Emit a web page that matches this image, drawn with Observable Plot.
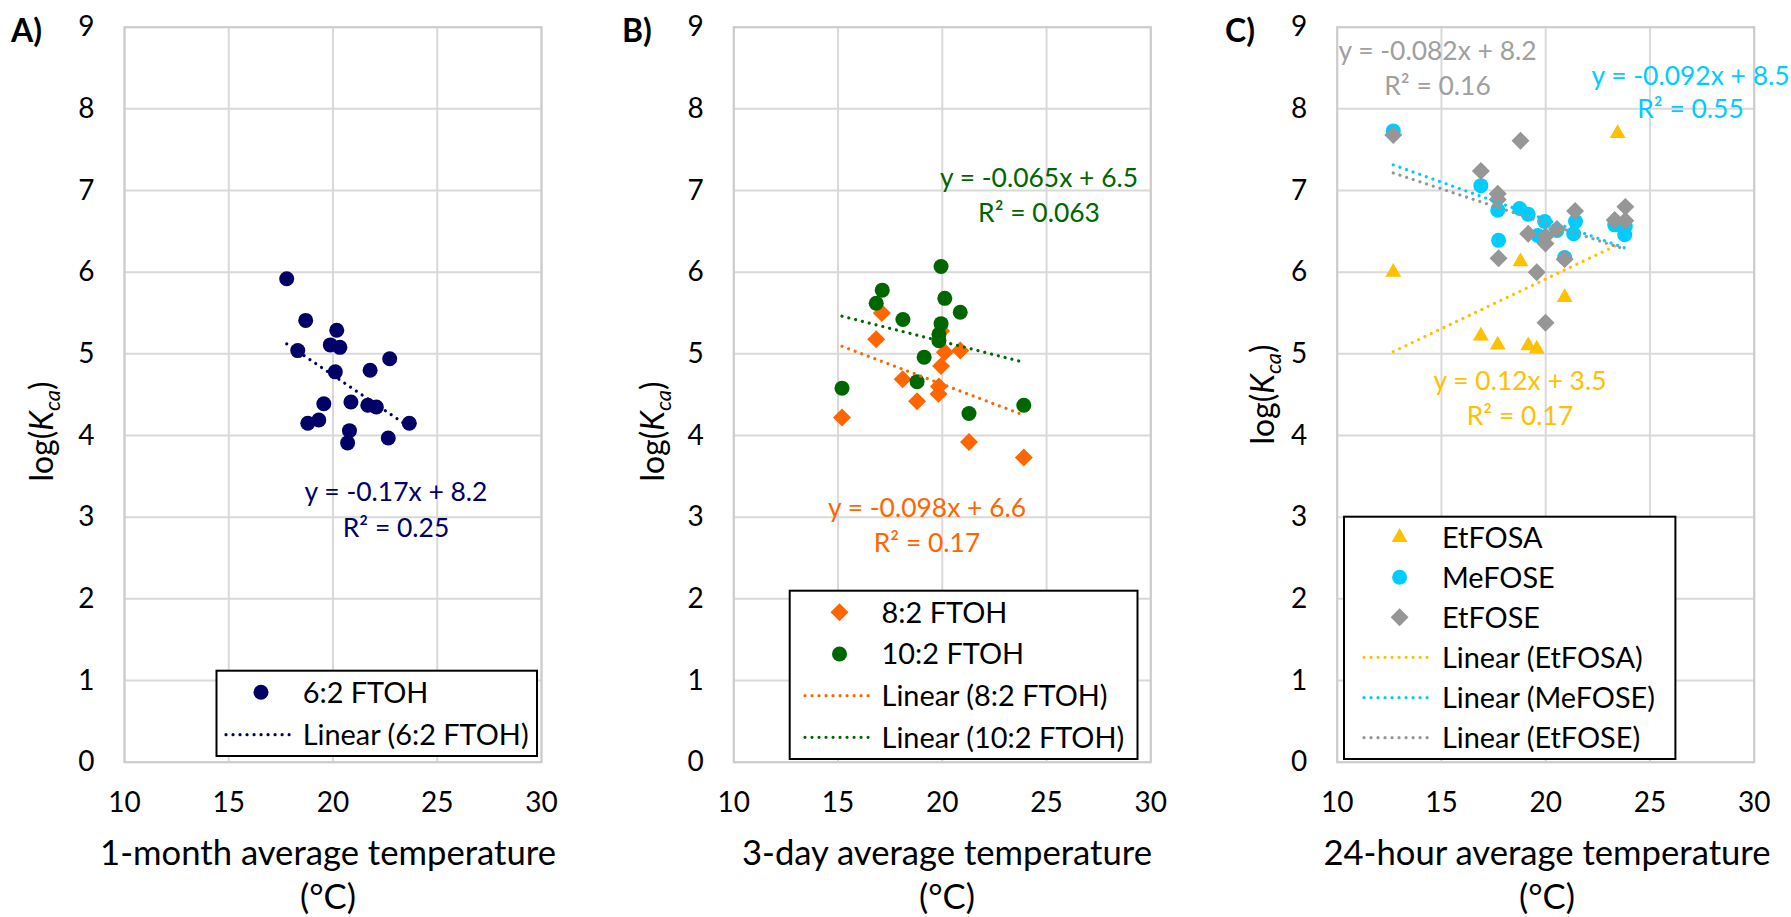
<!DOCTYPE html>
<html>
<head>
<meta charset="utf-8">
<script src="https://cdn.jsdelivr.net/npm/d3@7"></script>
<script src="https://cdn.jsdelivr.net/npm/@observablehq/plot@0.6"></script>
<style>
  body { margin: 0; background: #fff; }
  #wrap { position: relative; width: 1791px; height: 917px; overflow: hidden; background: #fff; }
  #wrap > svg { position: absolute; top: 0; }
</style>
</head>
<body>
<div id="wrap"></div>
<script>
// ---------------- data ----------------
const xTicks = [10, 15, 20, 25, 30];
const yTicks = [0, 1, 2, 3, 4, 5, 6, 7, 8, 9];

// Panel A: 6:2 FTOH vs 1-month average temperature
const ftoh62_temp = [17.78, 18.69, 18.31, 20.18, 19.87, 20.33, 20.11, 21.78, 22.72, 19.56, 20.86, 21.67, 22.08, 18.79, 19.32, 20.79, 20.70, 22.65, 23.66];
const ftoh62_logK = [5.92, 5.41, 5.04, 5.29, 5.11, 5.08, 4.78, 4.80, 4.94, 4.39, 4.41, 4.37, 4.35, 4.15, 4.19, 4.06, 3.91, 3.97, 4.15];

// Panel B: 8:2 and 10:2 FTOH vs 3-day average temperature
const ftoh82_temp = [17.10, 16.83, 19.94, 20.12, 20.86, 19.94, 18.10, 19.84, 19.82, 18.79, 15.19, 21.28, 23.91];
const ftoh82_logK = [5.50, 5.18, 5.28, 5.02, 5.04, 4.85, 4.69, 4.60, 4.51, 4.42, 4.22, 3.92, 3.73];
const ftoh102_temp = [19.94, 17.12, 16.83, 20.12, 20.86, 18.11, 19.94, 19.84, 19.84, 19.13, 18.79, 15.19, 21.28, 23.91];
const ftoh102_logK = [6.07, 5.78, 5.62, 5.68, 5.51, 5.42, 5.37, 5.24, 5.16, 4.96, 4.66, 4.58, 4.27, 4.37];

// Panel C: EtFOSA, MeFOSE, EtFOSE vs 24-hour average temperature
const etfosa_temp = [12.69, 23.45, 18.79, 20.91, 16.89, 17.70, 19.16, 19.57];
const etfosa_logK = [6.00, 7.70, 6.13, 5.69, 5.22, 5.11, 5.10, 5.06];
const mefose_temp = [12.69, 16.89, 17.70, 17.74, 18.75, 19.16, 19.95, 19.62, 20.54, 21.43, 21.34, 20.91, 23.31, 23.82, 23.79];
const mefose_logK = [7.73, 7.06, 6.76, 6.39, 6.78, 6.71, 6.62, 6.45, 6.51, 6.62, 6.47, 6.18, 6.58, 6.56, 6.46];
const etfose_temp = [12.69, 18.79, 16.89, 17.70, 17.70, 17.74, 19.16, 19.99, 19.99, 20.54, 19.57, 19.99, 20.91, 21.41, 23.31, 23.82, 23.82];
const etfose_logK = [7.68, 7.61, 7.24, 6.96, 6.89, 6.17, 6.47, 6.44, 6.35, 6.53, 6.00, 5.38, 6.16, 6.75, 6.64, 6.80, 6.63];

// Text
const panelLabels = ["A)", "B)", "C)"];
const xTitles = ["1-month average temperature", "3-day average temperature", "24-hour average temperature"];
const xUnit = "(°C)";

// ---------------- styling ----------------
const FONT = "Lato, 'Open Sans', sans-serif";
const GRID = "#d9d9d9";
const C_NAVY = "#000066", C_ORANGE = "#ff6600", C_GREEN = "#006600";
const C_YELLOW = "#ffc000", C_CYAN = "#00ccff", C_GRAY = "#969696";
const DOT_DASH = "0.01 7";

const rows = (xs, ys) => xs.map((t, i) => ({t, k: ys[i]}));
const SYM = {
  circle: {plot: "circle", r: 7.5},
  diamond: {plot: "diamond2", r: 8.1},
  triangle: {plot: "triangle", r: 5.9}
};

const series = {
  ftoh62: {name: "6:2 FTOH", data: rows(ftoh62_temp, ftoh62_logK), color: C_NAVY, sym: "circle"},
  ftoh82: {name: "8:2 FTOH", data: rows(ftoh82_temp, ftoh82_logK), color: C_ORANGE, sym: "diamond"},
  ftoh102: {name: "10:2 FTOH", data: rows(ftoh102_temp, ftoh102_logK), color: C_GREEN, sym: "circle"},
  etfosa: {name: "EtFOSA", data: rows(etfosa_temp, etfosa_logK), color: C_YELLOW, sym: "triangle"},
  mefose: {name: "MeFOSE", data: rows(mefose_temp, mefose_logK), color: C_CYAN, sym: "circle"},
  etfose: {name: "EtFOSE", data: rows(etfose_temp, etfose_logK), color: C_GRAY, sym: "diamond"}
};

const W = 1791, H = 917, SVG_W = 597;
const PLOT_TOP = 26.7, PLOT_BOTTOM = 761.7, PLOT_W = 417;

const panels = [
  {svgLeft: 0, plotLeft: 124, series: ["ftoh62"]},
  {svgLeft: 597, plotLeft: 733.3, series: ["ftoh82", "ftoh102"]},
  {svgLeft: 1194, plotLeft: 1336.7, series: ["etfosa", "mefose", "etfose"]}
];

const wrap = document.getElementById("wrap");

panels.forEach(p => {
  const mL = p.plotLeft - p.svgLeft;
  const marks = [
    Plot.gridX({ticks: xTicks, stroke: GRID, strokeOpacity: 1, strokeWidth: 2}),
    Plot.gridY({ticks: yTicks, stroke: GRID, strokeOpacity: 1, strokeWidth: 2}),
    Plot.frame({stroke: "#cccccc", strokeWidth: 2}),
    Plot.axisX({ticks: xTicks, tickSize: 0, tickPadding: 30, label: null}),
    Plot.axisY({ticks: yTicks, tickSize: 0, tickPadding: 30, label: null})
  ];
  p.series.forEach(key => {
    const s = series[key];
    marks.push(Plot.dot(s.data, {x: "t", y: "k", symbol: SYM[s.sym].plot, r: SYM[s.sym].r, fill: s.color, stroke: "none"}));
  });
  p.series.forEach(key => {
    const s = series[key];
    marks.push(Plot.linearRegressionY(s.data, {
      x: "t", y: "k", stroke: s.color, strokeWidth: 3.2,
      strokeDasharray: DOT_DASH, strokeLinecap: "round", ci: 0
    }));
  });
  const chart = Plot.plot({
    width: SVG_W,
    height: H,
    marginLeft: mL,
    marginRight: SVG_W - mL - PLOT_W,
    marginTop: PLOT_TOP,
    marginBottom: H - PLOT_BOTTOM,
    x: {type: "linear", domain: [10, 30]},
    y: {type: "linear", domain: [0, 9]},
    style: {fontFamily: FONT, fontSize: "28px", color: "#000", background: "transparent", overflow: "visible"},
    marks
  });
  chart.style.left = p.svgLeft + "px";
  wrap.appendChild(chart);
});

// ---------------- overlay: titles, legends, equations ----------------
const ov = d3.select(wrap).append("svg")
  .attr("width", W).attr("height", H)
  .style("left", "0px").style("top", "0px")
  .attr("font-family", FONT);

function fitSize(str, target, weight) {
  const t = ov.append("text").attr("font-size", 100).attr("font-weight", weight || 400).text(str);
  const len = t.node().getComputedTextLength();
  t.remove();
  return len > 0 ? 100 * target / len : 28;
}
const titleSize = fitSize(xTitles[0], 456);
const legendSize = fitSize("Linear (6:2 FTOH)", 226);
const eqSize = fitSize("y = -0.17x + 8.2", 183);

// panel labels
const labelX = [11, 622, 1225];
panelLabels.forEach((l, i) => {
  ov.append("text").attr("x", labelX[i]).attr("y", 42).attr("font-size", 32).attr("font-weight", 700).attr("fill", "#000").text(l);
});

// x-axis titles
const titleCx = [328, 947, 1547];
xTitles.forEach((t, i) => {
  ov.append("text").attr("x", titleCx[i]).attr("y", 865).attr("text-anchor", "middle").attr("font-size", titleSize).attr("fill", "#000").text(t);
  ov.append("text").attr("x", titleCx[i]).attr("y", 909).attr("text-anchor", "middle").attr("font-size", titleSize).attr("fill", "#000").text(xUnit);
});

// y-axis titles log(K_ca)
const yTitle = [{cx: 44, cy: 431.5}, {cx: 655.5, cy: 431.5}, {cx: 1265, cy: 394.5}];
const yFs = 32;
yTitle.forEach(p => {
  const bx = p.cx + 0.27 * yFs;
  const t = ov.append("text").attr("transform", `translate(${bx},${p.cy}) rotate(-90)`)
    .attr("text-anchor", "middle").attr("font-size", yFs).attr("fill", "#000");
  t.append("tspan").text("log(");
  t.append("tspan").attr("font-style", "italic").text("K");
  t.append("tspan").attr("font-style", "italic").attr("font-size", 22).attr("dy", 7).text("ca");
  t.append("tspan").attr("dy", -7).text(")");
});

// trend-line equations
const eqs = [
  {cx: 396, y1: 501, y2: 536.7, color: C_NAVY, l1: "y = -0.17x + 8.2", l2: "R² = 0.25"},
  {cx: 1039, y1: 186.7, y2: 221.7, color: C_GREEN, l1: "y = -0.065x + 6.5", l2: "R² = 0.063"},
  {cx: 927, y1: 516.7, y2: 551.7, color: C_ORANGE, l1: "y = -0.098x + 6.6", l2: "R² = 0.17"},
  {cx: 1437.5, y1: 60, y2: 95, color: "#a0a0a0", l1: "y = -0.082x + 8.2", l2: "R² = 0.16"},
  {cx: 1690.5, y1: 85, y2: 118.3, color: C_CYAN, l1: "y = -0.092x + 8.5", l2: "R² = 0.55"},
  {cx: 1520, y1: 390, y2: 425, color: C_YELLOW, l1: "y = 0.12x + 3.5", l2: "R² = 0.17"}
];
eqs.forEach(e => {
  ov.append("text").attr("x", e.cx).attr("y", e.y1).attr("text-anchor", "middle").attr("font-size", eqSize).attr("fill", e.color).text(e.l1);
  ov.append("text").attr("x", e.cx).attr("y", e.y2).attr("text-anchor", "middle").attr("font-size", eqSize).attr("fill", e.color).text(e.l2);
});

// legends
const d3sym = {
  circle: d3.symbolCircle,
  diamond: d3.symbolDiamond2 || d3.symbolSquare,
  triangle: d3.symbolTriangle
};
const legends = [
  {box: [216.5, 670.7, 537, 756], mx: 261, lx: [226, 295], tx: 302.7,
   items: [["sym", "ftoh62", 692.3], ["line", "ftoh62", 734.7]]},
  {box: [789.7, 590.7, 1137.5, 759], mx: 839.5, lx: [805, 874], tx: 881.6,
   items: [["sym", "ftoh82", 612.3], ["sym", "ftoh102", 654], ["line", "ftoh82", 695.7], ["line", "ftoh102", 737.3]]},
  {box: [1344, 516.7, 1675.4, 759], mx: 1399.6, lx: [1364, 1434], tx: 1442,
   items: [["sym", "etfosa", 537.3], ["sym", "mefose", 577.3], ["sym", "etfose", 617.3],
           ["line", "etfosa", 657.3], ["line", "mefose", 697.7], ["line", "etfose", 737.7]]}
];
legends.forEach(L => {
  const [x0, y0, x1, y1] = L.box;
  ov.append("rect").attr("x", x0).attr("y", y0).attr("width", x1 - x0).attr("height", y1 - y0)
    .attr("fill", "#fff").attr("stroke", "#000").attr("stroke-width", 2);
  L.items.forEach(([kind, key, y]) => {
    const s = series[key];
    if (kind === "sym") {
      const r = SYM[s.sym].r;
      ov.append("path").attr("transform", `translate(${L.mx},${y})`)
        .attr("d", d3.symbol().type(d3sym[s.sym]).size(Math.PI * r * r)())
        .attr("fill", s.color);
      ov.append("text").attr("x", L.tx).attr("y", y + 0.36 * legendSize).attr("font-size", legendSize).attr("fill", "#000").text(s.name);
    } else {
      ov.append("line").attr("x1", L.lx[0]).attr("x2", L.lx[1]).attr("y1", y).attr("y2", y)
        .attr("stroke", s.color).attr("stroke-width", 3.2).attr("stroke-linecap", "round")
        .attr("stroke-dasharray", DOT_DASH);
      ov.append("text").attr("x", L.tx).attr("y", y + 0.36 * legendSize).attr("font-size", legendSize).attr("fill", "#000").text(`Linear (${s.name})`);
    }
  });
});
</script>
</body>
</html>
